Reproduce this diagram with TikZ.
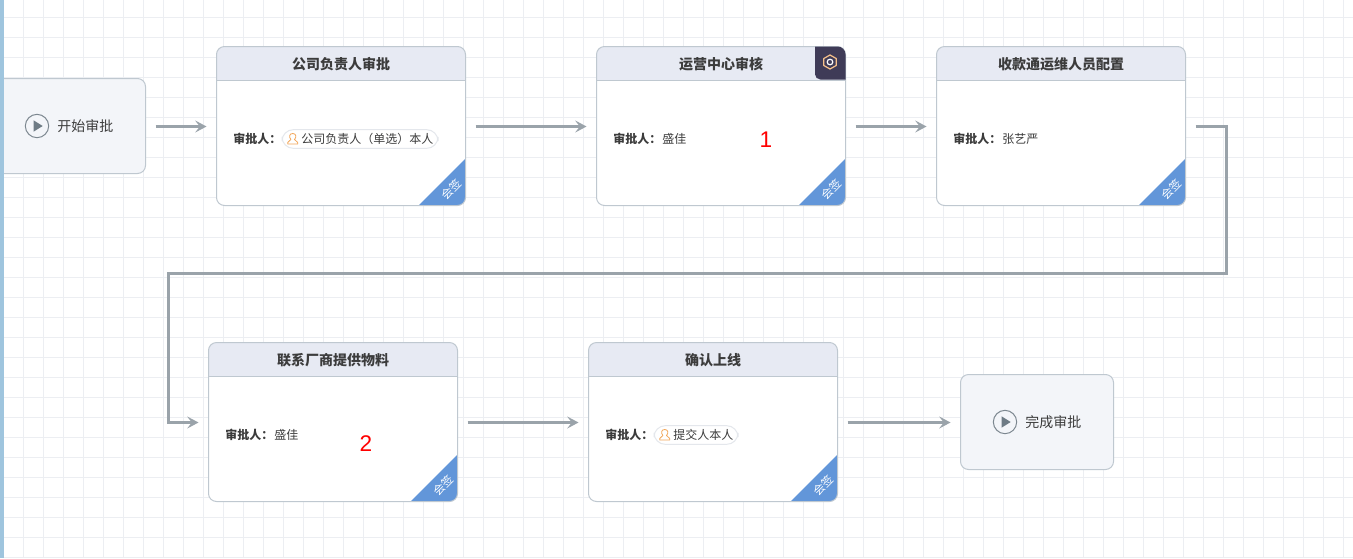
\documentclass[tikz,border=0pt]{standalone}
\usepackage{fontspec}
\setmainfont{Noto Sans CJK SC}
\newfontfamily\digitfont{Liberation Sans}
\usetikzlibrary{arrows.meta,calc}
\definecolor{gridc}{HTML}{ECEEF2}
\definecolor{gridd}{HTML}{E4E7EC}
\definecolor{edgec}{HTML}{BFC8D0}
\definecolor{headc}{HTML}{E7EAF3}
\definecolor{startc}{HTML}{F3F5F9}
\definecolor{linec}{HTML}{9AA3AA}
\definecolor{cornc}{HTML}{6296D9}
\definecolor{txtc}{HTML}{3C3C3C}
\definecolor{orangec}{HTML}{F2A65A}
\definecolor{darkc}{HTML}{3F3B57}
\definecolor{barc}{HTML}{9FC5DE}
\definecolor{playc}{HTML}{6E7B85}
\definecolor{ringc}{HTML}{7C8790}
\tikzset{
  x=0.75pt,y=-0.75pt,
  conn/.style={draw=linec,line width=2.5pt,shorten <=7.5pt,shorten >=7.5pt,-{Stealth[length=8.5pt,width=9pt,inset=3.5pt]}},
  pill/.style={draw=gridd,line width=0.75pt,rounded corners=8.5pt,fill=white,minimum height=14pt,inner sep=0pt,outer sep=0pt,anchor=west},
  lab/.style={font=\fontsize{9}{11}\selectfont,text=txtc,inner sep=0pt},
  blab/.style={font=\fontsize{9}{11}\selectfont\bfseries,text=txtc,inner sep=0pt,anchor=west},
  title/.style={font=\fontsize{10.5}{12}\selectfont\bfseries,text=txtc,inner sep=0pt},
  term/.style={font=\fontsize{10.5}{12}\selectfont,text=txtc,inner sep=0pt,anchor=west},
  red/.style={font=\digitfont\fontsize{17}{18}\selectfont,text=red,inner sep=0pt},
  termbox/.style={draw=edgec,fill=startc,line width=0.75pt,rounded corners=6pt,minimum height=71.25pt,inner sep=0pt,outer sep=0pt}
}
\newcommand{\approvebox}[4]{% name, x, y, title
  \node[minimum width=186.75pt,minimum height=119.25pt,inner sep=0pt,outer sep=0pt,anchor=north west] (#1) at (#2,#3) {};
  \fill[white,rounded corners=6pt] (#2,#3) rectangle ++(249,159);
  \begin{scope}
    \clip[rounded corners=6pt] (#2,#3) rectangle ++(249,159);
    \fill[headc] (#2,#3) rectangle ++(249,34);
    \fill[cornc] ($(#2,#3)+(249,112)$) -- ($(#2,#3)+(249,159)$) -- ($(#2,#3)+(202,159)$) -- cycle;
  \end{scope}
  \draw[edgec,line width=0.75pt,rounded corners=6pt] (#2,#3) rectangle ++(249,159);
  \draw[edgec,line width=0.75pt] ($(#2,#3)+(0,34)$) -- ++(249,0);
  \node[title] (#1t) at ($(#2,#3)+(124.5,17.5)$) {#4};
  \node[font=\fontsize{8.5}{9}\selectfont,text=white,rotate=45,inner sep=0pt] (#1c) at ($(#2,#3)+(234.5,143)$) {会签};
  \node[blab] (#1a) at ($(#2,#3)+(16.5,92.5)$) {审批人：};
}
\newcommand{\personicon}[2]{% x y centre
  \draw[orangec,line width=0.6pt,line join=round] (#1-5,#2+5) -- (#1-5,#2+3.5) .. controls (#1-5,#2+2) and (#1-2,#2+2) .. (#1-1.8,#2+0.5) .. controls (#1-4,#2-2) and (#1-3.5,#2-5.5) .. (#1,#2-5.5) .. controls (#1+3.5,#2-5.5) and (#1+4,#2-2) .. (#1+1.8,#2+0.5) .. controls (#1+2,#2+2) and (#1+5,#2+2) .. (#1+5,#2+3.5) -- (#1+5,#2+5) -- cycle;
}
\newcommand{\playicon}[3]{% name x y
  \node[circle,draw=ringc,line width=0.75pt,minimum size=17.5pt,inner sep=0pt,fill=startc] (#1) at (#2,#3) {};
  \fill[playc] (#2-3.3,#3-5.6) -- (#2+5.7,#3) -- (#2-3.3,#3+5.6) -- cycle;
}
\begin{document}
\begin{tikzpicture}
\useasboundingbox (0,0) rectangle (1353,558);
\fill[white] (0,0) rectangle (1353,558);
\foreach \g in {3,23,...,1353} {\draw[gridc,line width=0.75pt] (\g+0.5,0) -- (\g+0.5,558);}
\foreach \g in {17,37,...,558} {\draw[gridc,line width=0.75pt] (0,\g+0.5) -- (1353,\g+0.5);}

% start node
\begin{scope}
\clip (0,0) rectangle (1353,558);
\node[termbox,minimum width=120pt,anchor=north east] (start) at (145.5,78.5) {};
\end{scope}
\fill[barc] (0,0) rectangle (4,558);
\playicon{p1}{37}{126}
\node[term] (startt) at (57,126) {开始审批};

\approvebox{b1}{216.5}{46.5}{公司负责人审批}
\approvebox{b2}{596.5}{46.5}{运营中心审核}
\approvebox{b3}{936.5}{46.5}{收款通运维人员配置}
\approvebox{b4}{208.5}{342.5}{联系厂商提供物料}
\approvebox{b5}{588.5}{342.5}{确认上线}

% pills
\node[pill,minimum width=117pt] (pill1) at (282,139) {};
\personicon{292.7}{139}
\node[lab,anchor=west] (pill1t) at (301,139) {公司负责人（单选）本人};
\node[lab,anchor=west] (n2) at (662,139) {盛佳};
\node[lab,anchor=west] (n3) at (1002,139) {张艺严};
\node[lab,anchor=west] (n4) at (274,435) {盛佳};
\node[pill,minimum width=63pt] (pill5) at (654,435) {};
\personicon{664.7}{435}
\node[lab,anchor=west] (pill5t) at (673,435) {提交人本人};

% red numbers
\node[red] (r1) at (766,140) {1};
\node[red] (r2) at (366,444) {2};

% gear tab
\begin{scope}
\clip[rounded corners=6pt] (596.5,46.5) rectangle ++(249,159);
\fill[darkc,rounded corners=4pt] (815,40) rectangle (852,79.5);
\end{scope}
\draw[orangec!70!white,line width=0.9pt,line join=round] (830,55) -- (836.2,58.5) -- (836.2,65.5) -- (830,69) -- (823.8,65.5) -- (823.8,58.5) -- cycle;
\draw[white,line width=0.9pt] (830,62) circle[radius=2.8];

% end node
\node[termbox,minimum width=114.75pt,anchor=north west] (end) at (960.5,374.5) {};
\playicon{p2}{1005}{422}
\node[term] (endt) at (1025,422) {完成审批};

% connectors
\coordinate (c1) at (1226.5,126.5);
\coordinate (c2) at (1226.5,273.5);
\coordinate (c3) at (168.5,273.5);
\coordinate (c4) at (168.5,422.5);
\draw[conn] ([yshift=-0.375pt]start.east) -- ([yshift=-0.375pt]b1.west);
\draw[conn] ([yshift=-0.375pt]b1.east) -- ([yshift=-0.375pt]b2.west);
\draw[conn] ([yshift=-0.375pt]b2.east) -- ([yshift=-0.375pt]b3.west);
\draw[conn,line join=miter] ([yshift=-0.375pt]b3.east) -- (c1) -- (c2) -- (c3) -- (c4) -- ([yshift=-0.375pt]b4.west);
\draw[conn] ([yshift=-0.375pt]b4.east) -- ([yshift=-0.375pt]b5.west);
\draw[conn] ([yshift=-0.375pt]b5.east) -- ([yshift=-0.375pt]end.west);
\end{tikzpicture}
\end{document}
